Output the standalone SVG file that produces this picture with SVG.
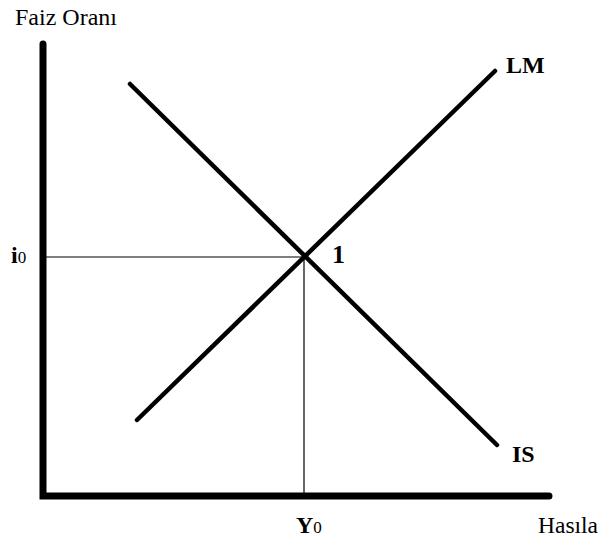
<svg xmlns="http://www.w3.org/2000/svg" width="600" height="542" viewBox="0 0 600 542">
<style>
.axis{stroke:#000;stroke-width:7;stroke-linecap:round;fill:none}
.curve{stroke:#000;stroke-width:4.5;stroke-linecap:round;fill:none}
.guide{stroke:#000;stroke-width:1.2;fill:none}
text{font-family:"Liberation Serif","Times New Roman",serif;fill:#000}
.lbl{font-size:24px}
.b{font-size:24px;font-weight:bold}
.sub{font-size:17px;font-weight:normal}
</style>
<rect width="600" height="542" fill="#fff"/>
<g id="connectors">
<line class="guide" x1="46" y1="257" x2="304" y2="257"/>
<line class="guide" x1="304" y1="257" x2="304" y2="494"/>
</g>
<g id="axes">
<polyline class="axis" points="43,44 43,496 549,496"/>
</g>
<g id="IS">
<line class="curve" x1="130" y1="84" x2="497" y2="445"/>
<text class="b" x="512" y="462">IS</text>
</g>
<g id="LM">
<line class="curve" x1="137" y1="420" x2="495" y2="71"/>
<text class="b" x="506" y="73" font-size="25">LM</text>
</g>
<g id="labels">
<text class="lbl" x="15" y="25">Faiz Oranı</text>
<text class="b" x="11" y="263">i<tspan class="sub">0</tspan></text>
<text class="b" x="332" y="263" style="font-size:26px">1</text>
<text class="b" x="296" y="533">Y<tspan class="sub">0</tspan></text>
<text class="lbl" x="538" y="533" style="font-size:23.5px">Hasıla</text>
</g>
</svg>
